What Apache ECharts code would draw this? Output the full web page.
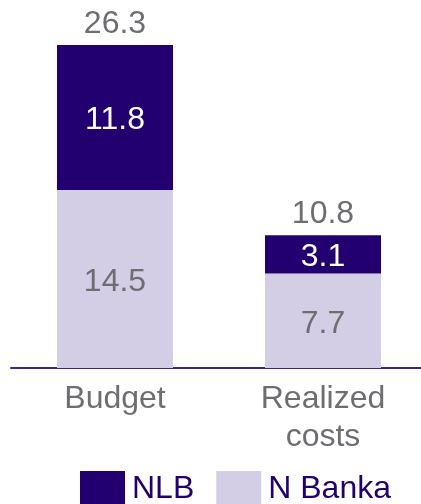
<!DOCTYPE html>
<html><head><meta charset="utf-8">
<script src="https://cdn.jsdelivr.net/npm/echarts@6/dist/echarts.min.js"></script>
<style>html,body{margin:0;padding:0;background:#fff;overflow:hidden;width:421px;height:504px}#c{width:427px;height:504px}</style>
</head><body><div id="c"></div>
<script>
const categories = ['Budget', 'Realized\ncosts'];
const nBanka = [14.5, 7.7];
const nlb = [11.8, 3.1];
const totals = [26.3, 10.8];
const seriesNames = ['NLB', 'N Banka'];

const FONT = 'Arial, "Liberation Sans", sans-serif';
const GRAY = '#6d6e71';
const DARK = '#22006f';
const LIGHT = '#d4cde6';
const FS = 32;

const chart = echarts.init(document.getElementById('c'));
chart.setOption({
  animation: false,
  textStyle: { fontFamily: FONT },
  grid: { left: 11, right: 0, top: 45, bottom: 136 },
  legend: {
    data: seriesNames,
    left: 75, top: 466,
    itemWidth: 45, itemHeight: 37, itemGap: 22,
    icon: 'rect',
    textStyle: { fontSize: FS, lineHeight: 37, color: DARK, fontFamily: FONT, padding: [0, 0, 0, 2] }
  },
  xAxis: {
    type: 'category',
    data: categories,
    axisLine: { lineStyle: { color: '#3e2596', width: 2 } },
    axisTick: { show: false },
    axisLabel: { fontSize: FS, color: GRAY, lineHeight: 38, margin: 12, fontFamily: FONT }
  },
  yAxis: { type: 'value', min: 0, max: 26.3, show: false, splitLine: { show: false } },
  series: [
    {
      name: 'N Banka', type: 'bar', stack: 'a', data: nBanka, barWidth: 116,
      itemStyle: { color: LIGHT },
      label: { show: true, position: 'inside', offset: [0, 3], fontSize: FS, color: GRAY, fontFamily: FONT }
    },
    {
      name: 'NLB', type: 'bar', stack: 'a', data: nlb, barWidth: 116,
      itemStyle: { color: DARK },
      label: { show: true, position: 'inside', offset: [0, 3], fontSize: FS, color: '#fff', fontFamily: FONT }
    },
    {
      name: 'Total', type: 'bar', stack: 'a', data: totals.map(() => 0), barWidth: 116,
      itemStyle: { color: 'transparent' },
      label: {
        show: true, position: 'top', distance: 5, fontSize: FS, color: GRAY, fontFamily: FONT,
        formatter: p => totals[p.dataIndex].toFixed(1)
      }
    }
  ]
});
</script></body></html>
